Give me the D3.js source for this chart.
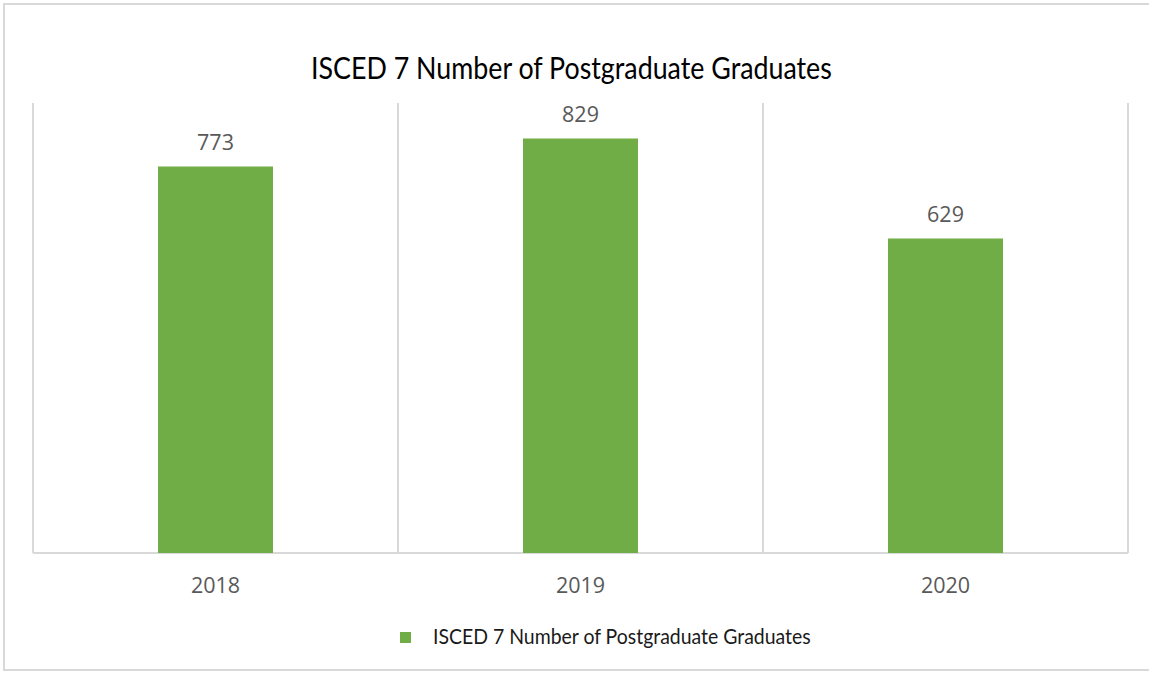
<!DOCTYPE html>
<html>
<head>
<meta charset="utf-8">
<script src="https://cdn.jsdelivr.net/npm/d3@7"></script>
<style>
  html, body { margin: 0; padding: 0; background: #ffffff; }
  svg { display: block; }
</style>
</head>
<body>
<svg id="chart" width="1149" height="673"></svg>
<script>
// ---- data ----
const categories = ["2018", "2019", "2020"];
const values = [773, 829, 629];
const seriesName = "ISCED 7 Number of Postgraduate Graduates";
const chartTitle = "ISCED 7 Number of Postgraduate Graduates";
const yDomain = [0, 900];

// ---- layout ----
const W = 1149, H = 673;
const plot = { left: 33, right: 1128, top: 103, bottom: 553 };
const barColor = "#70AD47";
const gridColor = "#d9d9d9";

const svg = d3.select("#chart");

// outer border
svg.append("rect")
  .attr("x", 4).attr("y", 4)
  .attr("width", W + 10).attr("height", 666)
  .attr("fill", "#ffffff")
  .attr("stroke", gridColor).attr("stroke-width", 2);

const x = d3.scaleBand().domain(categories).range([plot.left, plot.right]).padding(0);
const y = d3.scaleLinear().domain(yDomain).range([plot.bottom, plot.top]);
const barFrac = 0.315;

// vertical category gridlines
const bounds = categories.map(c => x(c)).concat([x(categories[categories.length - 1]) + x.bandwidth()]);
svg.append("g").selectAll("line").data(bounds).join("line")
  .attr("x1", d => d).attr("x2", d => d)
  .attr("y1", plot.top).attr("y2", plot.bottom)
  .attr("stroke", gridColor).attr("stroke-width", 2);

// bottom axis via d3 axis
const axisG = svg.append("g")
  .attr("transform", `translate(0,${plot.bottom})`)
  .call(d3.axisBottom(x).tickSize(0).tickPadding(40));
axisG.select(".domain").attr("stroke", gridColor).attr("stroke-width", 2)
  .attr("d", `M${plot.left},0H${plot.right}`);
axisG.selectAll(".tick text")
  .attr("font-family", "'Open Sans', sans-serif")
  .attr("font-size", 21.5)
  .attr("fill", "#595959")
  .attr("dy", null)
  .attr("y", 40);

// bars
const bw = x.bandwidth() * barFrac;
svg.append("g").selectAll("rect").data(values).join("rect")
  .attr("x", (d, i) => x(categories[i]) + x.bandwidth() / 2 - bw / 2)
  .attr("y", d => y(d))
  .attr("width", bw)
  .attr("height", d => y(0) - y(d))
  .attr("fill", barColor);

// value labels
svg.append("g").selectAll("text").data(values).join("text")
  .attr("x", (d, i) => x(categories[i]) + x.bandwidth() / 2)
  .attr("y", d => y(d) - 17)
  .attr("text-anchor", "middle")
  .attr("font-family", "'Open Sans', sans-serif")
  .attr("font-size", 21.5)
  .attr("fill", "#595959")
  .text(d => d);

// helper: place text starting at (x0, baseline) fitted to target width
function fitText(str, x0, base, size, targetW, family, color) {
  const t = svg.append("text")
    .attr("x", 0).attr("y", 0)
    .attr("font-family", family)
    .attr("font-size", size)
    .attr("fill", color)
    .text(str);
  const w = t.node().getComputedTextLength();
  const sx = targetW / w;
  t.attr("transform", `translate(${x0},${base}) scale(${sx},1)`);
  return t;
}

// title
fitText(chartTitle, 311, 79, 30, 521, "Lato, 'Open Sans', sans-serif", "#000000");

// legend
svg.append("rect")
  .attr("x", 400).attr("y", 632)
  .attr("width", 11).attr("height", 11)
  .attr("fill", barColor);
fitText(seriesName, 433, 644, 21, 378, "Lato, 'Open Sans', sans-serif", "#1a1a1a");
</script>
</body>
</html>
